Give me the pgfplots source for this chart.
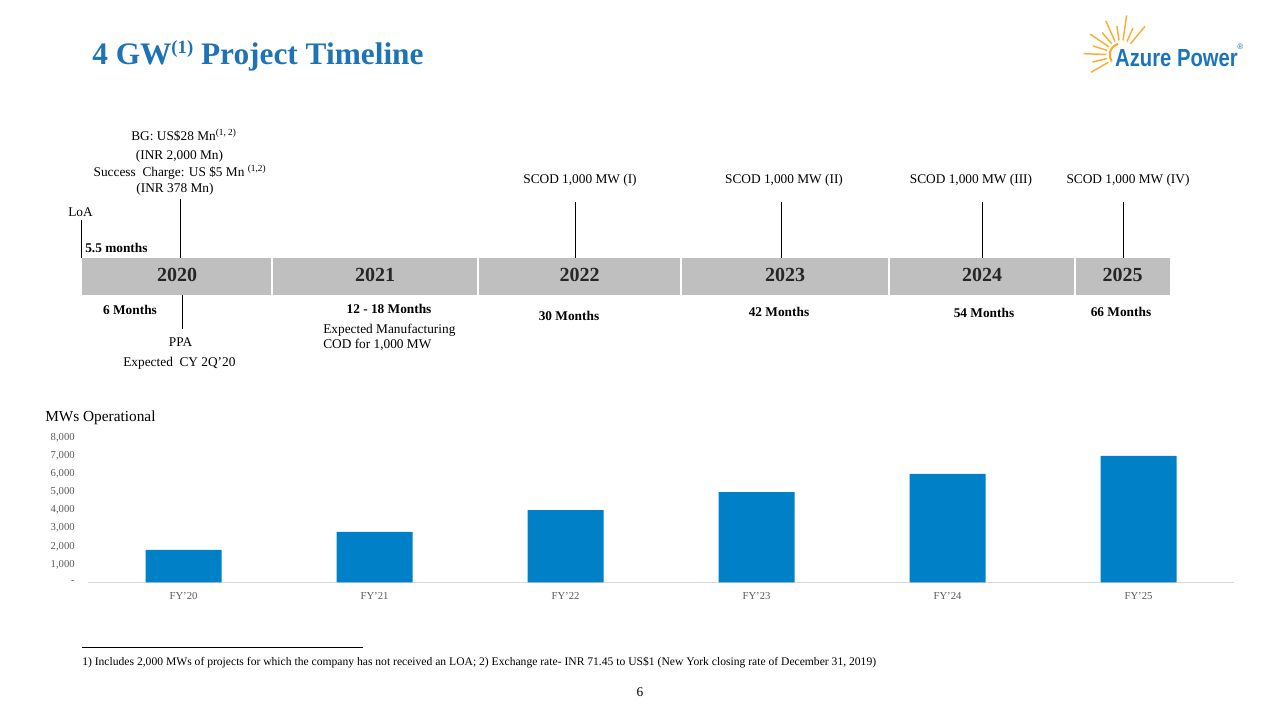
\documentclass[border=0pt]{standalone}
\usepackage{fontspec}
\setmainfont{Liberation Serif}
\newfontfamily\logofont{Liberation Sans}
\usepackage{pgfplots}
\pgfplotsset{compat=1.18}
\definecolor{titleblue}{RGB}{30,115,180}
\definecolor{barblue}{RGB}{0,128,198}
\definecolor{tlgray}{RGB}{191,191,191}
\definecolor{ticktext}{RGB}{89,89,89}
\definecolor{axgray}{RGB}{217,217,217}
\definecolor{sunorange}{RGB}{248,175,50}
\definecolor{logoblue}{RGB}{28,117,188}
\newcommand{\fs}[1]{\fontsize{#1}{#1}\selectfont}
\begin{document}
\begin{tikzpicture}
% bar chart: axis box lower-left at origin (= pixel 88,582.5)
\begin{axis}[
  at={(0,0)}, anchor=south west,
  scale only axis, width=859.5pt, height=108.6pt,
  xmin=-0.5, xmax=5.5, ymin=0, ymax=8000,
  xtick={0,1,2,3,4,5},
  xticklabels={FY'20,FY'21,FY'22,FY'23,FY'24,FY'25},
  ytick={0,1000,2000,3000,4000,5000,6000,7000,8000},
  yticklabels={-,{1,000},{2,000},{3,000},{4,000},{5,000},{6,000},{7,000},{8,000}},
  axis x line*=bottom, axis y line*=left,
  axis line style={-},
  y axis line style={draw=none},
  x axis line style={draw=axgray, line width=0.75pt},
  tick style={draw=none},
  major tick length=0pt,
  yticklabel style={anchor=east, inner sep=0pt, xshift=-9.75pt, font=\fs{8}, text=ticktext},
  xticklabel style={anchor=north, inner sep=0pt, yshift=-7.5pt, font=\fs{8}, text=ticktext},
  clip=false,
]
\addplot[ybar, bar width=57pt, fill=barblue, draw=none] coordinates {(0,1800) (1,2800) (2,4000) (3,5000) (4,6000) (5,7000)};
\end{axis}
\begin{scope}[x=0.75pt,y=-0.75pt,shift={(-66pt,436.875pt)}]
\path[use as bounding box] (0,0) rectangle (1280,720);
% title
\node[anchor=base west, inner sep=0pt, text=titleblue, font=\fs{23.5}\bfseries] at (92,65) {4 GW\raisebox{0.38em}{\fs{14}(1)} Project Timeline};
% logo
\foreach \a/\r in {50/28,66/22,82/30,98/22,114/28,130/22,146/28,162/22,178/28,194/22,210/26}{
  \draw[sunorange, line width=1.1pt] ([shift={(\a:11pt)}]1121,55) -- ([shift={(\a:\r pt)}]1121,55);
}
\draw[sunorange, line width=1.6pt] ([shift={(105:8.5pt)}]1121,55) arc (105:215:8.5pt);
\node[anchor=base west, inner sep=0pt, text=logoblue, font=\logofont\fs{18.5}\bfseries, xscale=0.82] at (1115,66.7) {Azure Power};
\node[anchor=base west, inner sep=0pt, text=logoblue, font=\logofont\fs{6}] at (1237,50) {\textregistered};
% timeline upper texts
\begin{scope}[every node/.style={inner sep=0pt, font=\fs{10}}]
\node[anchor=base] at (184,140.7) {BG: US\$28 Mn\textsuperscript{(1, 2)}};
\node[anchor=base] at (179.5,159.3) {(INR 2,000 Mn)};
\node[anchor=base] at (180,176.5) {Success\ \ Charge: US \$5 Mn \textsuperscript{(1,2)}};
\node[anchor=base] at (175,193) {(INR 378 Mn)};
\node[anchor=base west] at (68,216.7) {LoA};
\node[anchor=base west, font=\fs{10}\bfseries] at (85,253) {5.5 months};
\node[anchor=base] at (580,183.3) {SCOD 1,000 MW (I)};
\node[anchor=base] at (784,183.3) {SCOD 1,000 MW (II)};
\node[anchor=base] at (971,183.3) {SCOD 1,000 MW (III)};
\node[anchor=base] at (1128,183.3) {SCOD 1,000 MW (IV)};
\end{scope}
% marker lines
\draw[black, line width=0.75pt] (81.3,220) -- (81.3,258);
\draw[black, line width=0.75pt] (180.7,199) -- (180.7,258);
\foreach \x in {575.7,781,982,1123}{\draw[black, line width=0.75pt] (\x,202) -- (\x,258);}
\draw[black, line width=0.75pt] (182,295.5) -- (182,329);
% gray bar
\fill[tlgray] (82,258) rectangle (1170,295.5);
\foreach \x in {272,478,681,889,1075}{\draw[white, line width=1.5pt] (\x,258) -- (\x,295.5);}
\foreach \x/\y in {177/2020,375/2021,579.5/2022,785/2023,982/2024,1122.5/2025}{
  \node[anchor=base, inner sep=0pt, font=\fs{15}\bfseries, text={rgb,255:red,38;green,38;blue,38}] at (\x,281.7) {\y};
}
% lower timeline texts
\begin{scope}[every node/.style={inner sep=0pt, font=\fs{10}}]
\node[anchor=base, font=\fs{10}\bfseries] at (130,315) {6 Months};
\node[anchor=base] at (180.6,347) {PPA};
\node[anchor=base] at (179.4,366.7) {Expected\ \ CY 2Q'20};
\node[anchor=base, font=\fs{10}\bfseries] at (389,314) {12 - 18 Months};
\node[anchor=base west] at (323,334) {Expected Manufacturing};
\node[anchor=base west] at (323,349) {COD for 1,000 MW};
\node[anchor=base, font=\fs{10}\bfseries] at (569,320.7) {30 Months};
\node[anchor=base, font=\fs{10}\bfseries] at (779,316.7) {42 Months};
\node[anchor=base, font=\fs{10}\bfseries] at (984,318) {54 Months};
\node[anchor=base, font=\fs{10}\bfseries] at (1121,316.7) {66 Months};
\end{scope}
% chart title
\node[anchor=base west, inner sep=0pt, font=\fs{11.5}] at (45,421.7) {MWs Operational};
% footnote
\draw[black, line width=0.75pt] (82,648) -- (363,648);
\node[anchor=base west, inner sep=0pt, font=\fs{8.7}] at (82,665) {1) Includes 2,000 MWs of projects for which the company has not received an LOA; 2) Exchange rate- INR 71.45 to US\$1 (New York closing rate of December 31, 2019)};
\node[anchor=base, inner sep=0pt, font=\fs{10}] at (640,697) {6};
\end{scope}
\end{tikzpicture}
\end{document}
